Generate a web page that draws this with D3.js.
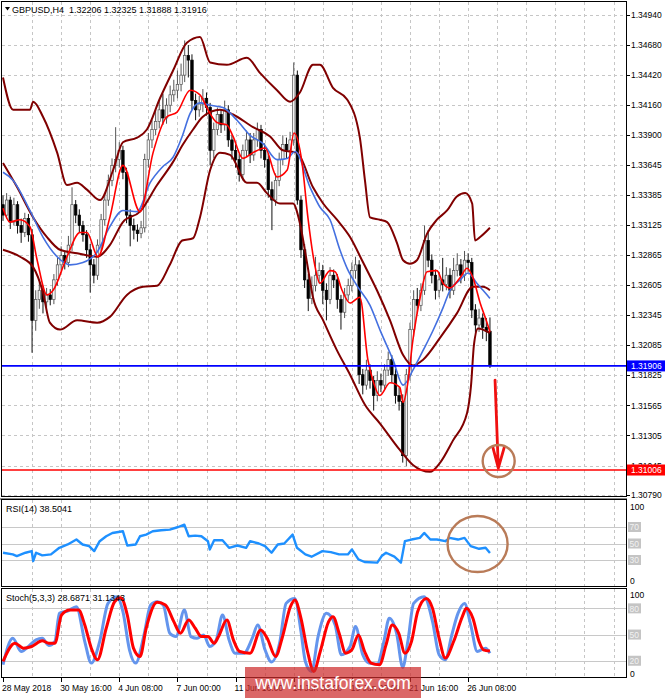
<!DOCTYPE html>
<html>
<head>
<meta charset="utf-8">
<script src="https://cdn.jsdelivr.net/npm/d3@7"></script>
<style>
html,body{margin:0;padding:0;background:#fff;}
svg{display:block;}
text{font-family:"Liberation Sans",Arial,sans-serif;}
</style>
</head>
<body>
<svg id="chart" width="665" height="698"></svg>
<script>
// ---------------- DATA ----------------
const symbolTitle = "GBPUSD,H4";
const lastOHLC = ["1.32206", "1.32325", "1.31888", "1.31916"];
const firstOpen = 1.3330;
const closes = [
1.3321,1.3334,1.3315,1.3330,1.3312,1.3306,1.3318,1.3304,1.3230,1.3248,
1.3256,1.3246,1.3252,1.3248,1.3265,1.3278,1.3286,1.3280,1.3295,1.3330,
1.3321,1.3312,1.3304,1.3291,1.3278,1.3269,1.3295,1.3317,1.3334,1.3351,
1.3364,1.3369,1.3377,1.3358,1.3321,1.3312,1.3308,1.3305,1.3310,1.3369,
1.3386,1.3395,1.3402,1.3412,1.3405,1.3416,1.3425,1.3429,1.3434,1.3442,
1.3459,1.3455,1.3420,1.3412,1.3417,1.3422,1.3414,1.3377,1.3395,1.3408,
1.3399,1.3412,1.3386,1.3377,1.3369,1.3356,1.3377,1.3386,1.3373,1.3386,
1.3395,1.3377,1.3369,1.3343,1.3334,1.3351,1.3369,1.3382,1.3377,1.3386,
1.3442,1.3334,1.3291,1.3265,1.3249,1.3260,1.3269,1.3273,1.3256,1.3248,
1.3269,1.3265,1.3248,1.3237,1.3252,1.3260,1.3273,1.3278,1.3183,1.3174,
1.3187,1.3178,1.3165,1.3178,1.3174,1.3187,1.3196,1.3183,1.3165,1.3160,
1.3113,1.3183,1.3222,1.3248,1.3243,1.3256,1.3299,1.3282,1.3269,1.3256,
1.3265,1.3261,1.3269,1.3256,1.3273,1.3278,1.3269,1.3282,1.3280,1.3239,
1.3226,1.3232,1.3224,1.32206,1.31916];
const highs = [
1.3338,1.3340,1.3337,1.3336,1.3333,1.3318,1.3323,1.3322,1.3309,1.3256,
1.3263,1.3260,1.3258,1.3257,1.3270,1.3284,1.3294,1.3290,1.3303,1.3345,
1.3334,1.3326,1.3316,1.3308,1.3296,1.3283,1.3300,1.3322,1.3340,1.3356,
1.3370,1.3397,1.3384,1.3381,1.3362,1.3326,1.3318,1.3313,1.3316,1.3374,
1.3392,1.3403,1.3412,1.3420,1.3426,1.3422,1.3433,1.3438,1.3446,1.3452,
1.3472,1.3468,1.3460,1.3426,1.3424,1.3430,1.3427,1.3418,1.3401,1.3414,
1.3412,1.3420,1.3416,1.3390,1.3382,1.3374,1.3382,1.3394,1.3392,1.3392,
1.3401,1.3399,1.3383,1.3374,1.3350,1.3357,1.3375,1.3390,1.3388,1.3393,
1.3453,1.3446,1.3338,1.3296,1.3270,1.3268,1.3285,1.3280,1.3278,1.3262,
1.3276,1.3274,1.3270,1.3252,1.3258,1.3266,1.3280,1.3285,1.3282,1.3188,
1.3196,1.3192,1.3182,1.3186,1.3184,1.3192,1.3203,1.3200,1.3188,1.3172,
1.3166,1.3188,1.3228,1.3256,1.3258,1.3262,1.3312,1.3308,1.3287,1.3274,
1.3272,1.3284,1.3276,1.3275,1.3284,1.3288,1.3283,1.3290,1.3288,1.3284,
1.3244,1.3240,1.3236,1.3232,1.32325];
const lows = [
1.3316,1.3318,1.3309,1.3312,1.3305,1.3297,1.3302,1.3298,1.3202,1.3221,
1.3240,1.3236,1.3241,1.3243,1.3244,1.3260,1.3273,1.3274,1.3276,1.3290,
1.3314,1.3306,1.3298,1.3284,1.3254,1.3262,1.3265,1.3290,1.3312,1.3329,
1.3346,1.3358,1.3362,1.3352,1.3314,1.3294,1.3300,1.3298,1.3301,1.3306,
1.3362,1.3379,1.3390,1.3396,1.3399,1.3400,1.3410,1.3419,1.3422,1.3428,
1.3436,1.3440,1.3412,1.3403,1.3406,1.3410,1.3407,1.3364,1.3370,1.3390,
1.3392,1.3394,1.3380,1.3369,1.3362,1.3350,1.3351,1.3371,1.3366,1.3368,
1.3380,1.3370,1.3362,1.3336,1.3308,1.3329,1.3346,1.3364,1.3370,1.3372,
1.3381,1.3330,1.3284,1.3258,1.3238,1.3244,1.3255,1.3262,1.3244,1.3230,
1.3244,1.3258,1.3240,1.3222,1.3232,1.3247,1.3255,1.3266,1.3175,1.3166,
1.3170,1.3171,1.3152,1.3160,1.3168,1.3170,1.3182,1.3176,1.3158,1.3152,
1.3107,1.3104,1.3178,1.3216,1.3236,1.3238,1.3252,1.3276,1.3262,1.3248,
1.3250,1.3255,1.3256,1.3249,1.3252,1.3268,1.3262,1.3264,1.3272,1.3232,
1.3218,1.3220,1.3214,1.3212,1.31888];

const priceTicks = [1.34940,1.34680,1.34420,1.34160,1.33900,1.33645,1.33385,1.33125,1.32865,1.32605,1.32345,1.32085,1.31825,1.31565,1.31305,1.31045,1.30790];
const timeLabels = ["28 May 2018","30 May 16:00","4 Jun 08:00","7 Jun 00:00","11 Jun 16:00","14 Jun 08:00","19 Jun 00:00","21 Jun 16:00","26 Jun 08:00"];
const timeLabelBars = [0,16,32,48,64,80,96,112,128];

// indicator lines: [bar index, value]
const maFast = [[0,1.3327],[1.9,1.3315],[4.7,1.3317],[7.4,1.3311],[9.4,1.3282],[12.1,1.3252],[13.8,1.3256],[17.6,1.3285],[21.2,1.3306],[23.1,1.3306],[26.1,1.3285],[29.4,1.3319],[33,1.3364],[37.7,1.3324],[41.3,1.3375],[45.1,1.3406],[47.9,1.3410],[51.5,1.3429],[54.2,1.3425],[56.4,1.3412],[58.9,1.3401],[61.6,1.3399],[63.3,1.3389],[66,1.3370],[68.8,1.3375],[72.1,1.3379],[75.4,1.3354],[78.2,1.3360],[80.1,1.3392],[82.3,1.3366],[83.9,1.3319],[85.9,1.3276],[87.2,1.3262],[90,1.3273],[91.4,1.3272],[93.3,1.3256],[95.5,1.3245],[98.2,1.3250],[100.4,1.3196],[101.8,1.3178],[103.7,1.3165],[106.5,1.3176],[109.2,1.3172],[110.1,1.3159],[111.2,1.3172],[112.8,1.3213],[114.8,1.3250],[116.7,1.3272],[119.4,1.3273],[121.1,1.3262],[123,1.3258],[125.8,1.3267],[127.7,1.3275],[129.3,1.3267],[131.3,1.3245],[133.2,1.3228],[134,1.3220]];
const maSlow = [[0,1.3358],[2.8,1.3351],[7.4,1.3325],[11,1.3302],[14.9,1.3285],[18.4,1.3278],[22,1.3280],[25.9,1.3289],[29.4,1.3311],[33,1.3325],[36.9,1.3324],[40.5,1.3349],[44,1.3363],[46.8,1.3371],[49.3,1.3389],[51.5,1.3409],[54.2,1.3418],[57,1.3416],[60.5,1.3414],[64.4,1.3403],[68,1.3390],[71.5,1.3383],[75.4,1.3369],[78.2,1.3370],[80.4,1.3376],[84.5,1.3345],[87.2,1.3328],[90,1.3317],[92.7,1.3291],[94.7,1.3275],[97.4,1.3260],[101,1.3243],[103.7,1.3222],[107.3,1.3196],[110.1,1.3174],[112.8,1.3187],[115.6,1.3204],[118.3,1.3221],[121.1,1.3241],[123,1.3256],[125.8,1.3265],[128,1.3271],[130.4,1.3262],[132.1,1.3256],[134,1.3249]];
const bbUpper = [[0,1.3440],[2.8,1.3412],[7.4,1.3412],[8.3,1.3419],[11,1.3406],[14.9,1.3375],[17.6,1.3347],[20.4,1.3349],[23.1,1.3343],[26.7,1.3334],[30.3,1.3360],[33,1.3384],[36.9,1.3388],[39.6,1.3395],[43.2,1.3422],[46.8,1.3446],[50.6,1.3470],[54.2,1.3475],[57,1.3453],[61.6,1.3451],[67.1,1.3457],[70.7,1.3444],[75.4,1.3429],[79,1.3419],[81.7,1.3427],[85.3,1.3451],[87.2,1.3451],[90.8,1.3431],[94.7,1.3421],[98.2,1.3388],[99.6,1.3351],[101,1.3319],[103.7,1.3317],[105.7,1.3315],[108.4,1.3297],[110.1,1.3282],[112,1.3279],[113.9,1.3282],[116.7,1.3305],[119.4,1.3317],[122.2,1.3325],[124.9,1.3337],[127.2,1.3340],[129.1,1.3331],[129.9,1.3299],[131.3,1.3302],[134,1.3310]];
const bbMiddle = [[0,1.3366],[3.9,1.3345],[8.3,1.3319],[12.1,1.3302],[15.7,1.3291],[20.4,1.3288],[25.9,1.3285],[29.4,1.3295],[33,1.3315],[37.7,1.3324],[42.4,1.3347],[46.8,1.3367],[49.5,1.3382],[52.3,1.3395],[55,1.3406],[59.7,1.3412],[63.3,1.3408],[68.8,1.3397],[73.5,1.3389],[77,1.3377],[80.9,1.3375],[85.3,1.3345],[88.1,1.3331],[91.9,1.3317],[95.5,1.3302],[99.1,1.3280],[102.9,1.3256],[106.5,1.3230],[110.1,1.3200],[112.8,1.3191],[115.6,1.3196],[120.3,1.3215],[124.9,1.3236],[129.3,1.3259],[132.1,1.3259],[134,1.3256]];
const bbLower = [[0,1.3291],[4.7,1.3285],[8.3,1.3276],[11,1.3254],[12.9,1.3228],[15.7,1.3222],[20.4,1.3230],[25.9,1.3228],[29.4,1.3233],[34.1,1.3252],[38.5,1.3259],[42.4,1.3260],[45.9,1.3278],[49.3,1.3299],[52.3,1.3301],[54.2,1.3319],[57,1.3360],[59.7,1.3375],[62.5,1.3373],[67.1,1.3349],[69.9,1.3349],[72.6,1.3340],[76.2,1.3331],[79.8,1.3331],[81.7,1.3314],[83.7,1.3279],[85.3,1.3250],[88.1,1.3230],[91.9,1.3204],[95.5,1.3183],[99.6,1.3157],[103.7,1.3141],[109.2,1.3118],[112.8,1.3105],[117.5,1.3099],[120.3,1.3107],[123.8,1.3126],[127.7,1.3150],[128.8,1.3174],[129.6,1.3209],[130.7,1.3223],[134,1.3219]];

const rsiLabel = "RSI(14) 38.5041";
const rsiValues = [[0,38.8],[2.7,36.8],[3.8,34.8],[6.2,38.8],[7.9,40.8],[8.3,28.8],[9.1,38.8],[10.8,35.6],[13.2,36.8],[15.5,44.8],[17.8,48.8],[20.2,54.8],[21.9,48.8],[23.7,46.8],[25.1,40.8],[26.6,52.8],[28.4,58.8],[30.1,62.8],[33,64.8],[34.2,47.6],[36.5,48.8],[37.7,58.8],[39.4,60.8],[41.2,64.8],[43.5,66],[45.9,66.8],[48.2,70],[49.9,72.8],[51.1,58.8],[52.9,59.6],[54.6,58.8],[56.4,52.8],[56.9,42.8],[58.1,54],[60.4,54],[62.2,44.8],[64.5,47.6],[66.9,44.8],[68,52.8],[70.4,50],[72.1,46.8],[73.9,38.8],[75.6,48.8],[77.4,50],[79.7,60.8],[80.9,44.8],[83.2,36.8],[84.9,34],[87.9,40.8],[90.2,39.6],[92.5,36.8],[94.9,36.8],[96,42.8],[97.8,30.8],[99.5,27.6],[103,26.8],[104.2,34.8],[105.4,38.8],[107.7,34],[109.5,26.8],[110.6,52.8],[112.4,54.8],[114.7,56.8],[115.9,62.8],[117.6,54.8],[119.4,54.8],[121.7,52.8],[122.9,56.8],[125.2,54.8],[127,56.8],[128.7,46.8],[131,43.6],[132.8,44.8],[134,38.5]];
const rsiLevels = [70, 50, 30];

const stochLabel = "Stoch(5,3,3) 28.6871 31.1343";
const stochK = [[0,15.4],[2.7,45.8],[5,30.6],[7.3,37.5],[9.1,43.9],[10.8,45.8],[12.6,37.5],[14.3,42],[15.5,74.3],[17.8,77],[20.2,81.9],[22.5,42],[24.3,17.3],[26.6,42],[28.9,85.7],[31.3,93.3],[33,76.2],[34.8,32.5],[36.5,17.3],[38.9,51.5],[40.6,83.8],[42.4,87.6],[44.1,83.8],[45.9,51.5],[47.6,47.7],[49.9,78.1],[51.7,47.7],[53.4,45.8],[55.2,49.6],[56.9,36.3],[58.7,43.9],[60.4,72.4],[62.2,43.9],[63.9,28.7],[66.3,28.7],[68.6,45.8],[70.1,61],[72.1,32.5],[73.9,18.5],[76.2,42],[77.9,85.7],[80.3,91.4],[82,53.4],[83.2,19.2],[84.9,7.8],[86.7,47.7],[89,74.3],[91.4,61],[93.1,26.8],[95.5,36.3],[97,59.1],[99,26.8],[100.7,17.3],[103,16.2],[104.8,42],[106.3,68.6],[108.3,51.5],[110,12.4],[111.4,42],[113,85.7],[115.9,93.3],[118.2,64.8],[120,26.8],[121.7,21.1],[123.5,49.6],[125.2,74.3],[127,85.7],[128.7,61],[130.5,30.6],[132.8,34.4],[134,28.69]];
const stochD = [[0,19.2],[3.3,40.1],[5.6,34.4],[7.9,36.3],[10.8,42.8],[12.6,40.1],[14.3,40.1],[16.1,72.4],[18.4,78.1],[20.8,78.1],[22.5,61],[24.3,34.4],[26,21.1],[28.4,57.2],[30.7,87.6],[32.4,92.2],[34.2,72.4],[35.9,34.4],[37.7,24.9],[39.4,57.2],[42.4,86.9],[44.7,83.8],[47,64.8],[48.8,51.5],[51.1,66.7],[52.9,57.2],[54.6,47.7],[56.4,47.7],[58.1,40.1],[59.3,47.7],[61.6,66.7],[63.4,43.9],[65.1,30.6],[68,28.7],[70.9,55.3],[72.7,45.8],[75,24.9],[76.8,45.8],[79.1,81.9],[80.3,89.5],[82,68.6],[83.8,30.6],[85.5,7.8],[87.3,30.6],[89.6,64.8],[90.8,70.5],[92.5,51.5],[94.3,28.7],[96,32.5],[97.8,49.6],[99.5,30.6],[101.3,17.3],[103.6,15.4],[105.4,38.2],[107.1,61],[108.9,51.5],[110.6,28.7],[112.4,42],[114.1,76.2],[116.5,91.4],[118.2,80],[120,45.8],[121.7,23],[124,42],[126.4,70.5],[127.5,80],[129.3,68.6],[131,42],[132.2,32.5],[134,31.13]];
const stochLevels = [80, 50, 20];

const supportPrice = 1.31906;
const targetPrice = 1.31006;
const arrowStart = [135.4, 1.31784];
const arrowTip = [136.3, 1.31023];
const targetCircle = [136.4, 1.31084];
const rsiEllipse = [130.6, 49.4];
const watermark = "www.instaforex.com";

// ---------------- LAYOUT ----------------
const svg = d3.select("#chart");
const PL = 2, PR = 626;
const main = {top: 2, bot: 497};
const rsiP = {top: 500, bot: 587};
const stP = {top: 589, bot: 678};
const barPx = 3.634;

const x = d3.scaleLinear().domain([0, (PR - 3) / barPx]).range([3, PR]);
const y = d3.scaleLinear().domain([1.30790, 1.34940]).range([495, 15]);
const yR = d3.scaleLinear().domain([0, 100]).range([584.75, 502.25]);
const yS = d3.scaleLinear().domain([0, 100]).range([678.2, 590.9]);

const defs = svg.append("defs");
function clip(id, p) {
  defs.append("clipPath").attr("id", id).append("rect")
    .attr("x", PL).attr("y", p.top).attr("width", PR - PL).attr("height", p.bot - p.top);
}
clip("cMain", main); clip("cRsi", rsiP); clip("cSt", stP);

const gridBars = d3.range(8, x.domain()[1], 8);
const dash = "3,3";
const gridCol = "#c6c6c6";

// vertical grids in each panel
[[main, "cMain"], [rsiP, "cRsi"], [stP, "cSt"]].forEach(([p]) => {
  svg.append("g").selectAll("line").data(gridBars).join("line")
    .attr("x1", d => Math.round(x(d)) + 0.5).attr("x2", d => Math.round(x(d)) + 0.5)
    .attr("y1", p.top).attr("y2", p.bot)
    .attr("stroke", gridCol).attr("stroke-dasharray", dash).attr("stroke-width", 1);
});
// horizontal price grid
svg.append("g").selectAll("line").data(priceTicks).join("line")
  .attr("x1", PL).attr("x2", PR)
  .attr("y1", d => Math.round(y(d)) + 0.5).attr("y2", d => Math.round(y(d)) + 0.5)
  .attr("stroke", gridCol).attr("stroke-dasharray", dash);

// level lines
svg.append("g").selectAll("line").data(rsiLevels).join("line")
  .attr("x1", PL).attr("x2", PR)
  .attr("y1", d => Math.round(yR(d)) + 0.5).attr("y2", d => Math.round(yR(d)) + 0.5)
  .attr("stroke", "#c8c8c8");
svg.append("g").selectAll("line").data(stochLevels).join("line")
  .attr("x1", PL).attr("x2", PR)
  .attr("y1", d => Math.round(yS(d)) + 0.5).attr("y2", d => Math.round(yS(d)) + 0.5)
  .attr("stroke", "#c8c8c8");

// ---------------- CANDLES ----------------
const bars = closes.map((c, i) => ({i, o: i === 0 ? firstOpen : closes[i - 1], c, h: highs[i], l: lows[i]}));
const gMain = svg.append("g").attr("clip-path", "url(#cMain)");
const gC = gMain.append("g");
gC.selectAll("line").data(bars).join("line")
  .attr("x1", d => x(d.i)).attr("x2", d => x(d.i))
  .attr("y1", d => y(d.h)).attr("y2", d => y(d.l))
  .attr("stroke", d => d.c >= d.o ? "#555" : "#111").attr("stroke-width", 1);
gC.selectAll("rect").data(bars).join("rect")
  .attr("x", d => x(d.i) - 1.25).attr("width", 2.5)
  .attr("y", d => y(Math.max(d.o, d.c)))
  .attr("height", d => Math.max(1, Math.abs(y(d.o) - y(d.c))))
  .attr("fill", d => d.c >= d.o ? "#f4f4f4" : "#000")
  .attr("stroke", d => d.c >= d.o ? "#555" : "#000").attr("stroke-width", 0.7);

// ---------------- INDICATORS ----------------
const lineMain = d3.line().x(d => x(d[0])).y(d => y(d[1])).curve(d3.curveMonotoneX);
[bbUpper, bbMiddle, bbLower].forEach(s => {
  gMain.append("path").datum(s).attr("d", lineMain).attr("fill", "none")
    .attr("stroke", "#800000").attr("stroke-width", 2);
});
gMain.append("path").datum(maSlow).attr("d", lineMain).attr("fill", "none")
  .attr("stroke", "#4470e0").attr("stroke-width", 1.6);
gMain.append("path").datum(maFast).attr("d", lineMain).attr("fill", "none")
  .attr("stroke", "#ff0000").attr("stroke-width", 1.6);

// horizontal levels
gMain.append("line").attr("x1", PL).attr("x2", PR)
  .attr("y1", y(supportPrice)).attr("y2", y(supportPrice))
  .attr("stroke", "#0000ff").attr("stroke-width", 1.6);
gMain.append("line").attr("x1", PL).attr("x2", PR)
  .attr("y1", y(targetPrice)).attr("y2", y(targetPrice))
  .attr("stroke", "#ff0000").attr("stroke-width", 1.6);

// arrow
const ax0 = x(arrowStart[0]), ay0 = y(arrowStart[1]);
const ax1 = x(arrowTip[0]), ay1 = y(arrowTip[1]);
gMain.append("path")
  .attr("d", `M${ax0},${ay0} L${ax1},${ay1} M${ax1 - 5.5},${ay1 - 21} L${ax1},${ay1} L${ax1 + 6},${ay1 - 21}`)
  .attr("fill", "none").attr("stroke", "#f01010").attr("stroke-width", 2.8)
  .attr("stroke-linecap", "round").attr("stroke-linejoin", "round");
gMain.append("circle").attr("cx", x(targetCircle[0])).attr("cy", y(targetCircle[1])).attr("r", 16)
  .attr("fill", "none").attr("stroke", "#b97b58").attr("stroke-width", 2.4);

// ---------------- RSI ----------------
const gR = svg.append("g").attr("clip-path", "url(#cRsi)");
gR.append("path").datum(rsiValues)
  .attr("d", d3.line().x(d => x(d[0])).y(d => yR(d[1])))
  .attr("fill", "none").attr("stroke", "#1e90ff").attr("stroke-width", 2.4).attr("stroke-linejoin", "round");
gR.append("ellipse").attr("cx", x(rsiEllipse[0])).attr("cy", yR(rsiEllipse[1]))
  .attr("rx", 30).attr("ry", 28)
  .attr("fill", "none").attr("stroke", "#b97b58").attr("stroke-width", 2.4);

// ---------------- STOCH ----------------
const gS = svg.append("g").attr("clip-path", "url(#cSt)");
const lineS = d3.line().x(d => x(d[0])).y(d => yS(d[1])).curve(d3.curveMonotoneX);
gS.append("path").datum(stochK).attr("d", lineS).attr("fill", "none")
  .attr("stroke", "#6495ed").attr("stroke-width", 3);
gS.append("path").datum(stochD).attr("d", lineS).attr("fill", "none")
  .attr("stroke", "#ff0000").attr("stroke-width", 3);

// ---------------- FRAMES ----------------
svg.append("rect").attr("x", PL - 0.5).attr("y", main.top - 0.5).attr("width", PR - PL + 1).attr("height", main.bot - main.top)
  .attr("fill", "none").attr("stroke", "#000");
svg.append("line").attr("x1", 0).attr("x2", PR + 1).attr("y1", 499).attr("y2", 499)
  .attr("stroke", "#888").attr("stroke-width", 2);
svg.append("rect").attr("x", PL - 0.5).attr("y", rsiP.top - 0.5).attr("width", PR - PL + 1).attr("height", rsiP.bot - rsiP.top)
  .attr("fill", "none").attr("stroke", "#000");
svg.append("rect").attr("x", PL - 0.5).attr("y", stP.top - 0.5).attr("width", PR - PL + 1).attr("height", stP.bot - stP.top)
  .attr("fill", "none").attr("stroke", "#000");

// ---------------- AXES ----------------
const axisFont = 8.5;
// price axis
const gA = svg.append("g");
gA.selectAll("line").data(priceTicks).join("line")
  .attr("x1", PR).attr("x2", PR + 4)
  .attr("y1", d => Math.round(y(d)) + 0.5).attr("y2", d => Math.round(y(d)) + 0.5).attr("stroke", "#000");
gA.selectAll("text").data(priceTicks).join("text")
  .attr("x", PR + 5).attr("y", d => y(d) + 3.2)
  .attr("font-size", axisFont).attr("fill", "#000")
  .text(d => d.toFixed(5));

function priceTag(p, col) {
  svg.append("rect").attr("x", PR + 1).attr("y", y(p) - 5.5).attr("width", 38).attr("height", 11).attr("fill", col);
  svg.append("text").attr("x", PR + 5).attr("y", y(p) + 3.2).attr("font-size", axisFont).attr("fill", "#fff").text(p.toFixed(5));
}
priceTag(supportPrice, "#0000ff");
priceTag(targetPrice, "#ff0000");

function levelLabels(scale, levels) {
  const g = svg.append("g");
  g.selectAll("rect").data(levels).join("rect")
    .attr("x", PR + 2).attr("y", d => scale(d) - 5).attr("width", 13).attr("height", 10).attr("fill", "#c4c4c4");
  g.selectAll("text").data(levels).join("text")
    .attr("x", PR + 3.5).attr("y", d => scale(d) + 3.2).attr("font-size", axisFont).attr("fill", "#f2f2f2").text(d => d);
  g.append("text").attr("x", PR + 4).attr("y", scale(100) + 7.5).attr("font-size", axisFont).attr("fill", "#000").text("100");
  g.append("text").attr("x", PR + 4).attr("y", scale(0) - 1).attr("font-size", axisFont).attr("fill", "#000").text("0");
}
levelLabels(yR, rsiLevels);
levelLabels(yS, stochLevels);

// time axis
const gT = svg.append("g");
gT.selectAll("line").data(timeLabelBars).join("line")
  .attr("x1", d => Math.round(x(d)) + 0.5).attr("x2", d => Math.round(x(d)) + 0.5)
  .attr("y1", stP.bot).attr("y2", stP.bot + 4).attr("stroke", "#000");
gT.selectAll("text").data(timeLabelBars).join("text")
  .attr("x", d => x(d) - 1).attr("y", 691)
  .attr("font-size", axisFont).attr("fill", "#000")
  .text((d, i) => timeLabels[i]);

// ---------------- TEXT LABELS ----------------
svg.append("path").attr("d", "M5,7 L10,7 L7.5,10.5 Z").attr("fill", "#000");
svg.append("text").attr("x", 12).attr("y", 12.5).attr("font-size", 9).attr("fill", "#000")
  .attr("xml:space", "preserve")
  .text(symbolTitle + "  " + lastOHLC.join(" "));
svg.append("text").attr("x", 6).attr("y", 511.5).attr("font-size", 9).attr("fill", "#000").text(rsiLabel);
svg.append("text").attr("x", 6).attr("y", 600.5).attr("font-size", 9).attr("fill", "#000").text(stochLabel);

// watermark
svg.append("rect").attr("x", 245).attr("y", 667).attr("width", 176).attr("height", 31)
  .attr("fill", "rgba(205,45,45,0.72)");
svg.append("text").attr("x", 333).attr("y", 688.5).attr("text-anchor", "middle")
  .attr("font-size", 17.5).attr("fill", "#fff").text(watermark);
</script>
</body>
</html>
